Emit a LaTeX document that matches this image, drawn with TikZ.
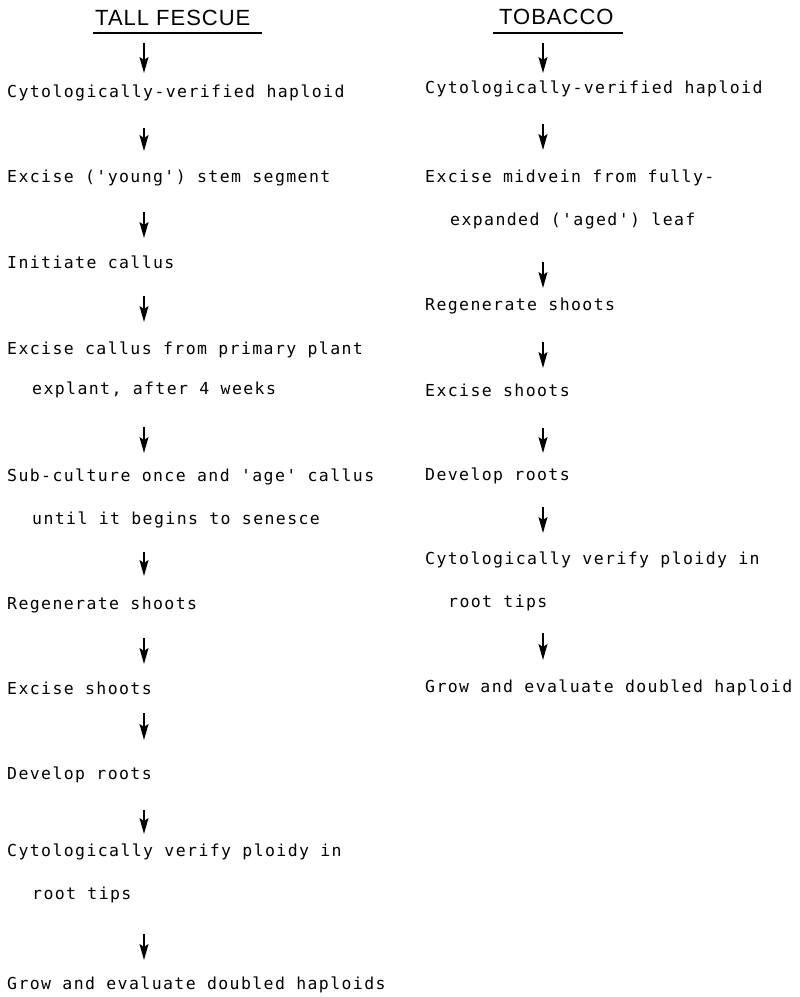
\documentclass[tikz,border=0pt]{standalone}
\usepackage{fontspec}
\setmainfont{Liberation Sans}
\newfontfamily\plotfont[LetterSpace=8.5]{DejaVu Sans Mono}
\newfontfamily\headfont[LetterSpace=4.5]{Liberation Sans}
\usetikzlibrary{arrows.meta}
\begin{document}
\begin{tikzpicture}[x=1pt,y=-1pt,
  txt/.style={anchor=base west, inner sep=0pt, font=\plotfont\fontsize{16.5}{19}\selectfont},
  hd/.style={anchor=base west, inner sep=0pt, font=\headfont\fontsize{22}{26}\selectfont},
  flow/.style={line width=1.6pt, -{Stealth[length=16pt,width=9pt,inset=3pt]}},
  uline/.style={line width=1.4pt}]
\fill[white] (0,0) rectangle (800,997);
\useasboundingbox (0,0) rectangle (800,997);

% headings
\node[hd] (t1) at (95,25) {TALL FESCUE};
\coordinate (u1a) at (93,33); \coordinate (u1b) at (262,33);
\draw[uline] (u1a) -- (u1b);
\node[hd] (t2) at (499,24) {TOBACCO};
\coordinate (u2a) at (493,33); \coordinate (u2b) at (623,33);
\draw[uline] (u2a) -- (u2b);

% left column
\node[txt] (l1) at (7,97) {Cytologically-verified haploid};
\node[txt] (l2) at (7,182) {Excise ('young') stem segment};
\node[txt] (l3) at (7,268) {Initiate callus};
\node[txt] (l4a) at (7,354) {Excise callus from primary plant};
\node[txt] (l4b) at (32,394) {explant, after 4 weeks};
\node[txt] (l5a) at (7,481) {Sub-culture once and 'age' callus};
\node[txt] (l5b) at (32,524) {until it begins to senesce};
\node[txt] (l6) at (7,609) {Regenerate shoots};
\node[txt] (l7) at (7,694) {Excise shoots};
\node[txt] (l8) at (7,779) {Develop roots};
\node[txt] (l9a) at (7,856) {Cytologically verify ploidy in};
\node[txt] (l9b) at (32,899) {root tips};
\node[txt] (l10) at (7,989) {Grow and evaluate doubled haploids};

% right column
\node[txt] (r1) at (425,93) {Cytologically-verified haploid};
\node[txt] (r2a) at (425,182) {Excise midvein from fully-};
\node[txt] (r2b) at (450,225) {expanded ('aged') leaf};
\node[txt] (r3) at (425,310) {Regenerate shoots};
\node[txt] (r4) at (425,396) {Excise shoots};
\node[txt] (r5) at (425,480) {Develop roots};
\node[txt] (r6a) at (425,564) {Cytologically verify ploidy in};
\node[txt] (r6b) at (448,607) {root tips};
\node[txt] (r7) at (425,692) {Grow and evaluate doubled haploid};

% arrows
\foreach \n/\x/\a/\b in {L1/144/43/73, L2/144/128/151, L3/144/212/238, L4/144/296/322,
  L5/144/427/453, L6/144/552/576, L7/144/638/664, L8/144/713/740, L9/144/810/834, L10/144/934/960,
  R1/543/43/73, R2/543/124/150, R3/543/262/288, R4/543/342/368, R5/543/428/453,
  R6/543/507/533, R7/543/633/660}{
  \coordinate (s\n) at (\x,\a);
  \coordinate (e\n) at (\x,\b);
  \draw[flow] (s\n) -- (e\n);
}
\end{tikzpicture}
\end{document}
